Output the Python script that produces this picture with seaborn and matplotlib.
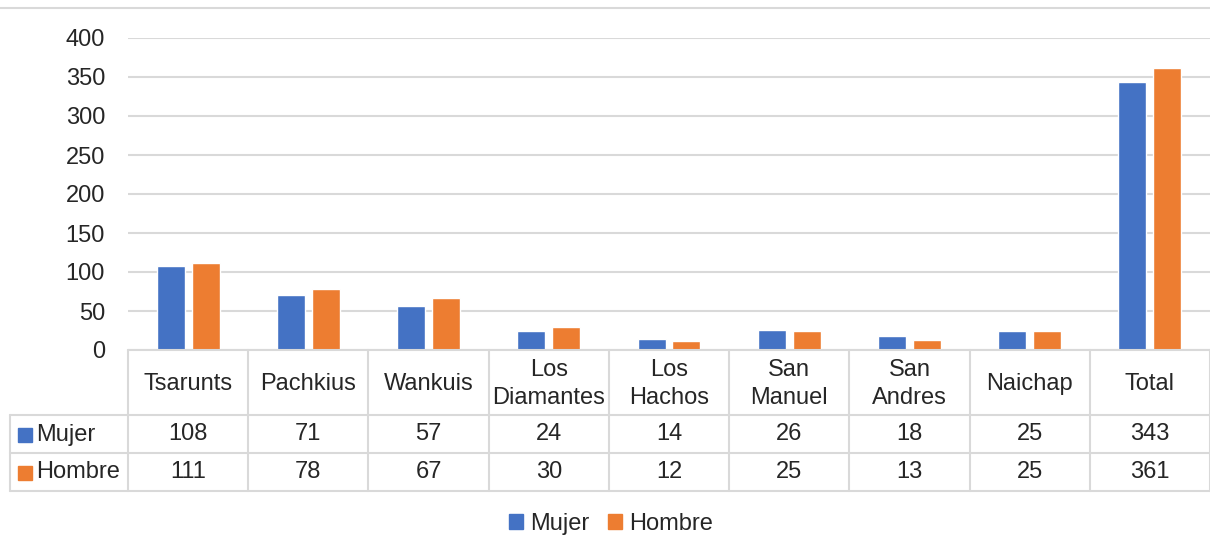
import matplotlib
matplotlib.use("Agg")
import matplotlib.pyplot as plt
import seaborn as sns
import pandas as pd
from matplotlib.patches import Rectangle

# Data
categories = ["Tsarunts", "Pachkius", "Wankuis", "Los\nDiamantes", "Los\nHachos",
              "San\nManuel", "San\nAndres", "Naichap", "Total"]
mujer = [108, 71, 57, 24, 14, 26, 18, 25, 343]
hombre = [111, 78, 67, 30, 12, 25, 13, 25, 361]
series_names = ["Mujer", "Hombre"]
y_ticks = [0, 50, 100, 150, 200, 250, 300, 350, 400]

BLUE = "#4472C4"
ORANGE = "#ED7D31"
GRID = "#D9D9D9"
TEXT = "#262626"
FS = 17

sns.set_theme(style="white")
plt.rcParams["font.family"] = ["Liberation Sans", "DejaVu Sans"]

W, H = 1210, 537
fig = plt.figure(figsize=(W / 100, H / 100), dpi=100)

def px_rect(x0, y0, x1, y1):
    return [x0 / W, 1 - y1 / H, (x1 - x0) / W, (y1 - y0) / H]

df = pd.DataFrame({
    "cat": categories * 2,
    "val": mujer + hombre,
    "serie": [series_names[0]] * len(categories) + [series_names[1]] * len(categories),
})

ax = fig.add_axes(px_rect(128, 38, 1210, 350))
sns.barplot(data=df, x="cat", y="val", hue="serie", order=categories,
            hue_order=series_names, palette=[BLUE, ORANGE], width=0.582, gap=0.2,
            saturation=1, legend=False, ax=ax)
ax.set_xlim(-0.5, len(categories) - 0.5)
ax.set_ylim(0, 400)
ax.set_yticks(y_ticks)
ax.set_yticklabels([str(t) for t in y_ticks], fontsize=FS, color=TEXT)
ax.tick_params(axis="y", length=0, pad=16.5)
ax.set_xticks([])
ax.set_xlabel("")
ax.set_ylabel("")
ax.grid(axis="y", color=GRID, linewidth=1.5)
ax.set_axisbelow(True)
for s in ax.spines.values():
    s.set_visible(False)

# Data table below the plot
tax = fig.add_axes(px_rect(128, 350, 1210, 491), sharex=ax)
tax.set_ylim(141, 0)
tax.axis("off")
row_edges = [0, 65, 103, 141]
label_left = -0.5 - 118 / 120.2
n = len(categories)
lw = 1.5
# horizontal lines
tax.plot([-0.5, n - 0.5], [row_edges[0]] * 2, color=GRID, lw=lw, clip_on=False)
for yv in row_edges[1:]:
    tax.plot([label_left, n - 0.5], [yv] * 2, color=GRID, lw=lw, clip_on=False)
# vertical lines
for i in range(n + 1):
    tax.plot([i - 0.5] * 2, [0, 141], color=GRID, lw=lw, clip_on=False)
tax.plot([label_left] * 2, [65, 141], color=GRID, lw=lw, clip_on=False)

for i, c in enumerate(categories):
    tax.text(i, 34, c, ha="center", va="center", fontsize=FS, color=TEXT,
             linespacing=1.3)
    tax.text(i, 84.5, str(mujer[i]), ha="center", va="center", fontsize=FS, color=TEXT)
    tax.text(i, 122.5, str(hombre[i]), ha="center", va="center", fontsize=FS, color=TEXT)

sq = 14 / 120.2
for yc, name, col in [(84.5, series_names[0], BLUE), (122.5, series_names[1], ORANGE)]:
    x0 = label_left + 8 / 120.2
    tax.add_patch(Rectangle((x0, yc - 7), sq, 14, color=col, clip_on=False))
    tax.text(x0 + sq + 4 / 120.2, yc, name, ha="left", va="center", fontsize=FS,
             color=TEXT)

# Legend at the bottom
handles = [Rectangle((0, 0), 1, 1, color=BLUE), Rectangle((0, 0), 1, 1, color=ORANGE)]
fig.legend(handles, series_names, loc="center", bbox_to_anchor=(0.505, 1 - 524 / H),
           ncol=2, frameon=False, fontsize=FS, handlelength=0.6, handleheight=0.6,
           handletextpad=0.3, columnspacing=0.8, labelcolor=TEXT)

# Thin border line along the top
fig.add_artist(plt.Line2D([0, 1], [1 - 8 / H] * 2, color=GRID, lw=1.5,
                          transform=fig.transFigure))

fig.savefig("out.png", dpi=100, facecolor="white")
